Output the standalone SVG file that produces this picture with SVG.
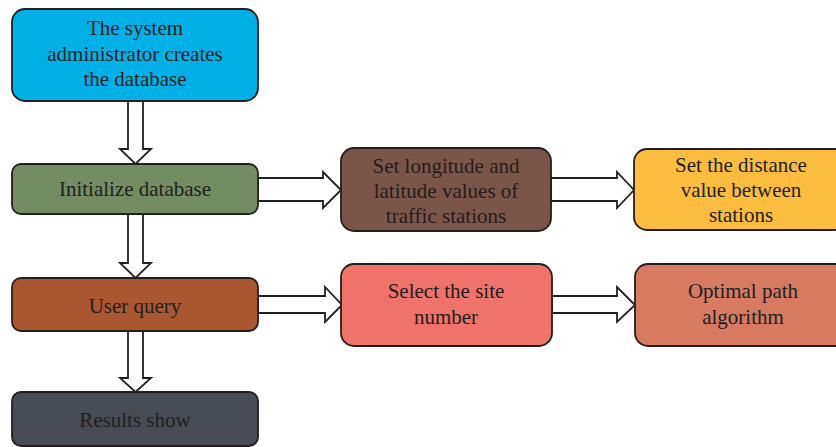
<svg xmlns="http://www.w3.org/2000/svg" width="836" height="447" viewBox="0 0 836 447">
  <style>
    .box { stroke: #231f20; stroke-width: 1.8; }
    .arrow { fill: #ffffff; stroke: #231f20; stroke-width: 1.8; stroke-linejoin: miter; }
    text { font-family: "Liberation Serif", "Times New Roman", serif; font-size: 21px; fill: #231f20; text-anchor: middle; }
  </style>
  <rect width="836" height="447" fill="#ffffff"/>

  <g id="connectors">
    <!-- vertical block arrows -->
    <polygon class="arrow" points="128,101 143,101 143,149 151,149 135.5,164 120,149 128,149"/>
    <polygon class="arrow" points="128,214 143,214 143,263 151,263 135.5,278 120,263 128,263"/>
    <polygon class="arrow" points="128,331 143,331 143,378 151,378 135.5,392 120,378 128,378"/>
    <!-- horizontal block arrows -->
    <polygon class="arrow" points="258,178 323,178 323,172 341,190 323,208 323,201 258,201"/>
    <polygon class="arrow" points="551,178 617,178 617,172 634,190 617,208 617,201 551,201"/>
    <polygon class="arrow" points="258,296 325,296 325,287 342,305 325,322 325,313 258,313"/>
    <polygon class="arrow" points="552,296 617,296 617,287 635,305 617,322 617,313 552,313"/>
  </g>

  <g id="node-create">
    <rect class="box" x="12" y="9" width="246" height="92" rx="13" fill="#00b0e6"/>
    <text x="135" y="35">The system</text>
    <text x="135" y="61">administrator creates</text>
    <text x="135" y="86">the database</text>
  </g>

  <g id="node-init">
    <rect class="box" x="12" y="164" width="246" height="50" rx="9" fill="#738c62"/>
    <text x="135" y="196">Initialize database</text>
  </g>

  <g id="node-query">
    <rect class="box" x="12" y="278" width="246" height="53" rx="9" fill="#a85730"/>
    <text x="135" y="313">User query</text>
  </g>

  <g id="node-results">
    <rect class="box" x="12" y="392" width="246" height="54" rx="9" fill="#474c54"/>
    <text x="135" y="427">Results show</text>
  </g>

  <g id="node-coords">
    <rect class="box" x="341" y="148" width="210" height="83" rx="13" fill="#7a5549"/>
    <text x="446" y="173">Set longitude and</text>
    <text x="446" y="198">latitude values of</text>
    <text x="446" y="223">traffic stations</text>
  </g>

  <g id="node-distance">
    <rect class="box" x="634" y="149" width="214" height="81" rx="13" fill="#fbbd3f"/>
    <text x="741" y="172">Set the distance</text>
    <text x="741" y="197">value between</text>
    <text x="741" y="222">stations</text>
  </g>

  <g id="node-site">
    <rect class="box" x="341" y="264" width="211" height="82" rx="13" fill="#f0736a"/>
    <text x="446" y="298">Select the site</text>
    <text x="446" y="324">number</text>
  </g>

  <g id="node-path">
    <rect class="box" x="635" y="264" width="215" height="82" rx="13" fill="#d67a60"/>
    <text x="743" y="298">Optimal path</text>
    <text x="743" y="324">algorithm</text>
  </g>
</svg>
